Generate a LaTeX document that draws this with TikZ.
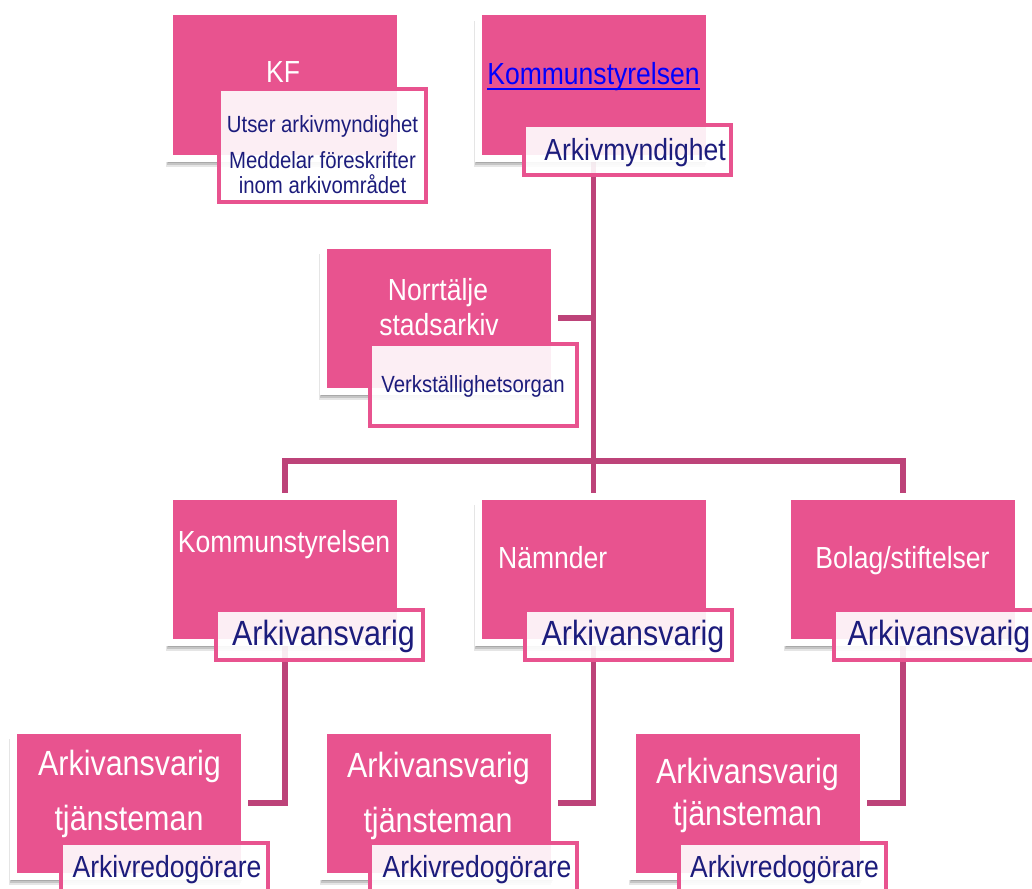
\documentclass[tikz,border=0pt]{standalone}
\usepackage{fontspec}
\setmainfont{Liberation Sans}
\newfontfamily\pf[FakeStretch=0.87]{Liberation Sans}
\usetikzlibrary{shadows,backgrounds}
\definecolor{pinkbox}{HTML}{E8538F}
\definecolor{conncol}{HTML}{BD4379}
\definecolor{navy}{HTML}{1C1C7C}
\definecolor{linkblue}{HTML}{0000FF}
\begin{document}
\begin{tikzpicture}[x=1pt,y=-1pt,
  mainbox/.style={draw=white, line width=7pt, fill=pinkbox, minimum width=231pt, minimum height=146pt, inner sep=0pt, outer sep=0pt,
    general shadow={fill=black, opacity=0.10, shadow xshift=-4pt, shadow yshift=-9pt},
    general shadow={fill=black, opacity=0.14, shadow xshift=-3pt, shadow yshift=-7pt},
    general shadow={fill=black, opacity=0.14, shadow xshift=-2pt, shadow yshift=-5pt}},
  subbox/.style={draw=pinkbox, line width=4pt, fill=white, fill opacity=0.9, minimum width=207pt, inner sep=0pt, outer sep=0pt},
  titletxt/.style={text=white, font=\pf\fontsize{30.5}{34}\selectfont, inner sep=0pt, anchor=base},
  bigtxt/.style={text=white, font=\pf\fontsize{35}{40}\selectfont, inner sep=0pt, anchor=base},
  subtxt/.style={text=navy, font=\pf\fontsize{30.5}{34}\selectfont, inner sep=0pt, anchor=base},
  subbig/.style={text=navy, font=\pf\fontsize{35}{40}\selectfont, inner sep=0pt, anchor=base},
  desctxt/.style={text=navy, font=\pf\fontsize{23.4}{27}\selectfont, inner sep=0pt, anchor=base},
  conn/.style={draw=conncol, line width=5.5pt}
]
\useasboundingbox (0,0) rectangle (1032,888);

% top level
\node[mainbox] (kf) at (285,85) {};
\node[subbox, minimum height=113pt] (kfSub) at (322.5,145.5) {};
\node[titletxt] (kfT) at (283,83) {KF};
\node[desctxt] (kfD1) at (322.5,132) {Utser arkivmyndighet};
\node[desctxt] (kfD2) at (322.5,168) {Meddelar föreskrifter};
\node[desctxt] (kfD3) at (322.5,193) {inom arkivområdet};

\node[mainbox] (ksTop) at (593.5,85) {};
\node[subbox, minimum height=50pt] (ksSub) at (627.5,150) {};
\node[titletxt, text=linkblue] (ksTopT) at (593.5,85) {Kommunstyrelsen};
\draw[linkblue, line width=1.8pt] ([yshift=-4pt]ksTopT.base west) -- ([yshift=-4pt]ksTopT.base east);
\node[subtxt] (ksSubT) at (635,160) {Arkivmyndighet};

% stadsarkiv
\node[mainbox] (nsa) at (438.5,318) {};
\node[subbox, minimum height=82pt] (nsaSub) at (473,385) {};
\node[titletxt] (nsaT1) at (438,300) {Norrtälje};
\node[titletxt] (nsaT2) at (439,335) {stadsarkiv};
\node[desctxt] (nsaSubT) at (473,392) {Verkställighetsorgan};

% second level
\node[mainbox] (ks2) at (285,569) {};
\node[subbox, minimum height=50pt] (ks2Sub) at (319,635) {};
\node[titletxt] (ks2T) at (284,552) {Kommunstyrelsen};
\node[subbig] (ks2SubT) at (323.5,645) {Arkivansvarig};

\node[mainbox] (nam) at (593.5,569) {};
\node[subbox, minimum height=50pt] (namSub) at (628,635) {};
\node[titletxt, anchor=base west] (namT) at (498,568) {Nämnder};
\node[subbig] (namSubT) at (633,645) {Arkivansvarig};

\node[mainbox] (bol) at (903,569) {};
\node[subbox, minimum height=50pt] (bolSub) at (937.5,635) {};
\node[titletxt] (bolT) at (902.5,568) {Bolag/stiftelser};
\node[subbig] (bolSubT) at (939,645) {Arkivansvarig};

% third level
\node[mainbox] (t1) at (128.5,803) {};
\node[subbox, minimum height=50pt] (t1Sub) at (164,868) {};
\node[bigtxt] (t1T1) at (129.5,775) {Arkivansvarig};
\node[bigtxt] (t1T2) at (129,830) {tjänsteman};
\node[subtxt] (t1SubT) at (167,877) {Arkivredogörare};

\node[mainbox] (t2) at (439,803) {};
\node[subbox, minimum height=50pt] (t2Sub) at (473.5,868) {};
\node[bigtxt] (t2T1) at (438.5,777) {Arkivansvarig};
\node[bigtxt] (t2T2) at (438,832) {tjänsteman};
\node[subtxt] (t2SubT) at (477,877) {Arkivredogörare};

\node[mainbox] (t3) at (748,803) {};
\node[subbox, minimum height=50pt] (t3Sub) at (782,868) {};
\node[bigtxt] (t3T1) at (747.5,783) {Arkivansvarig};
\node[bigtxt] (t3T2) at (747.5,825) {tjänsteman};
\node[subtxt] (t3SubT) at (784.5,877) {Arkivredogörare};

% connectors
\begin{scope}[on background layer]
\coordinate (hub) at (593.5,461);
\draw[conn] (ksTop.south) -- (hub);
\draw[conn] (nsa.east) -- (nsa.east -| hub);
\draw[conn] (ks2.north) |- (hub) -| (bol.north);
\draw[conn] (hub) -- (nam.north);
\draw[conn] (ks2.south) |- (t1.east);
\draw[conn] (nam.south) |- (t2.east);
\draw[conn] (bol.south) |- (t3.east);
\end{scope}
\end{tikzpicture}
\end{document}
